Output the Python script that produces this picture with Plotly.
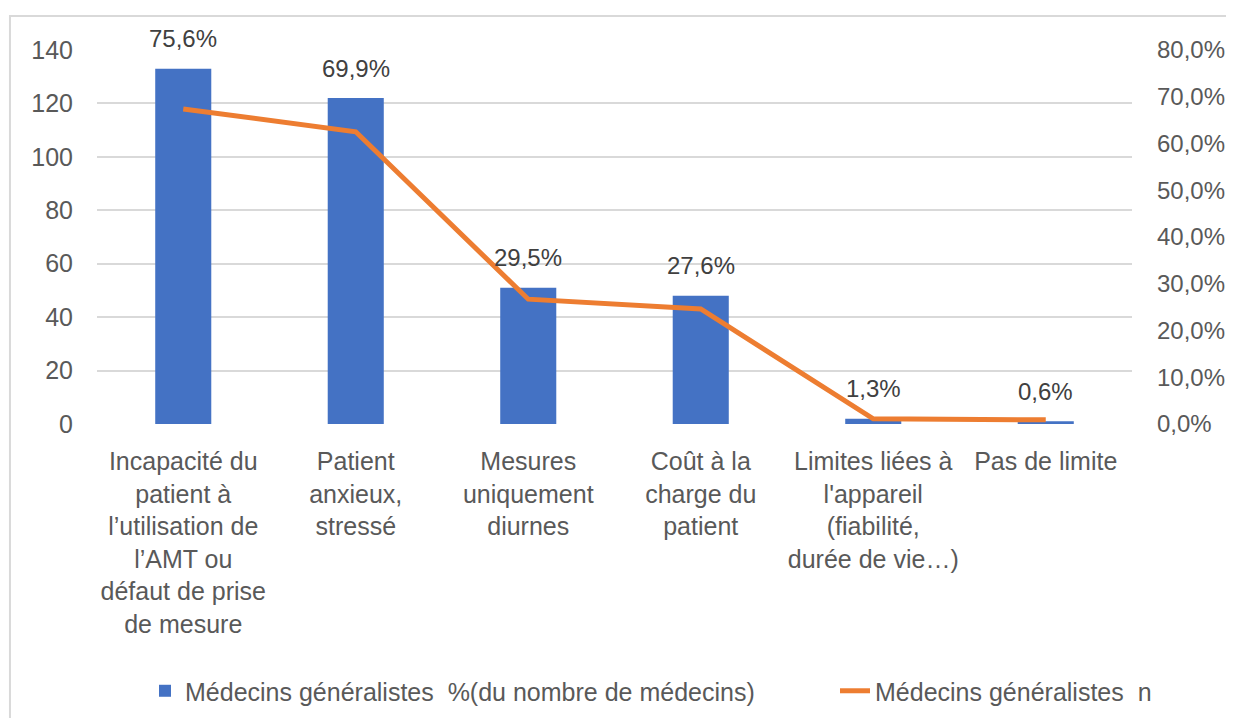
import plotly.graph_objects as go

categories = [
    "Incapacité du<br>patient à<br>l’utilisation de<br>l’AMT ou<br>défaut de prise<br>de mesure",
    "Patient<br>anxieux,<br>stressé",
    "Mesures<br>uniquement<br>diurnes",
    "Coût à la<br>charge du<br>patient",
    "Limites liées à<br>l'appareil<br>(fiabilité,<br>durée de vie…)",
    "Pas de limite",
]
bar_values = [133, 122, 51, 48, 2, 1]
bar_labels = ["75,6%", "69,9%", "29,5%", "27,6%", "1,3%", "0,6%"]
line_values = [0.674, 0.625, 0.267, 0.246, 0.011, 0.009]

bar_name = "Médecins généralistes  %(du nombre de médecins)"
line_name = "Médecins généralistes  n"

FONT = "Liberation Sans, Arial, sans-serif"
TXT = "#595959"
GRID = "#D9D9D9"

W, H = 1218, 710  # page body adds an 8px margin -> page fits the 1234x726 window

fig = go.Figure()
fig.add_trace(go.Bar(
    x=categories, y=bar_values, name=bar_name,
    marker=dict(color="#4472C4", line=dict(width=0)),
    width=0.325, yaxis="y", hoverinfo="skip", legend="legend",
))
fig.add_trace(go.Scatter(
    x=categories, y=line_values, name=line_name, mode="lines",
    line=dict(color="#ED7D31", width=5), yaxis="y2", hoverinfo="skip", legend="legend2",
))

for c, v, t in zip(categories, bar_values, bar_labels):
    fig.add_annotation(x=c, y=v, xref="x", yref="y", text=t, showarrow=False,
                       yshift=30, yanchor="middle",
                       font=dict(family=FONT, size=24, color="#404040"))

# chart area border (left and top edges)
fig.add_shape(type="rect", xref="paper", yref="paper",
              x0=-0.0841, x1=1.12, y0=-0.85, y1=1.0909,
              line=dict(color=GRID, width=2), fillcolor="rgba(0,0,0,0)", layer="below")

legend_common = dict(orientation="h", xref="container", yref="container",
                     y=0.038, yanchor="middle", xanchor="left",
                     font=dict(family=FONT, size=25, color=TXT), bgcolor="rgba(0,0,0,0)")

fig.update_layout(
    width=W, height=H,
    margin=dict(l=89, r=94, t=42, b=294, autoexpand=False),
    paper_bgcolor="white", plot_bgcolor="white",
    separators=", ",
    font=dict(family=FONT, size=25, color=TXT),
    showlegend=True,
    legend=dict(x=137 / W, **legend_common),
    legend2=dict(x=827 / W, **legend_common),
    xaxis=dict(showgrid=False, showline=False, zeroline=False, automargin=False,
               ticks="outside", ticklen=15, tickcolor="rgba(0,0,0,0)",
               tickfont=dict(family=FONT, size=25, color=TXT), tickangle=0,
               fixedrange=True),
    yaxis=dict(range=[0, 140], dtick=20, showgrid=True, gridcolor=GRID, gridwidth=2,
               zeroline=False, showline=False, automargin=False,
               ticks="outside", ticklen=18, tickcolor="rgba(0,0,0,0)",
               tickfont=dict(family=FONT, size=25, color=TXT)),
    yaxis2=dict(range=[0, 0.8], dtick=0.1, tickformat=".1%", overlaying="y", side="right",
                showgrid=False, zeroline=False, showline=False, automargin=False,
                ticks="", ticklabelstandoff=24,
                tickfont=dict(family=FONT, size=24, color=TXT)),
)

fig.write_html("out.html")
